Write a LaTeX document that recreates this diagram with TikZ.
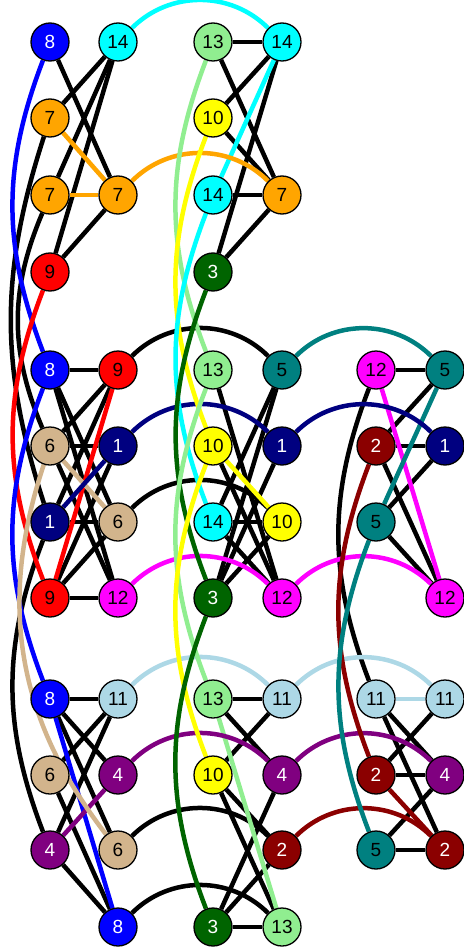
\documentclass[tikz,border=0pt]{standalone}
\usepackage{fontspec}
\setmainfont{Liberation Sans}
\usetikzlibrary{backgrounds}
\definecolor{cBlue}{RGB}{0,0,255}
\definecolor{cCyan}{RGB}{0,255,255}
\definecolor{cLightGreen}{RGB}{144,238,144}
\definecolor{cYellow}{RGB}{255,255,0}
\definecolor{cOrange}{RGB}{255,165,0}
\definecolor{cRed}{RGB}{255,0,0}
\definecolor{cDarkGreen}{RGB}{0,100,0}
\definecolor{cTeal}{RGB}{0,128,128}
\definecolor{cMagenta}{RGB}{255,0,255}
\definecolor{cNavy}{RGB}{0,0,128}
\definecolor{cTan}{RGB}{210,180,140}
\definecolor{cLightBlue}{RGB}{173,216,230}
\definecolor{cPurple}{RGB}{128,0,128}
\definecolor{cDarkRed}{RGB}{139,0,0}
\tikzset{
  vtx/.style={circle,draw=black,line width=1.3pt,minimum size=38pt,
    inner sep=0pt,font=\fontsize{19}{19}\selectfont},
  c1/.style={vtx,fill=cNavy,text=white},
  c2/.style={vtx,fill=cDarkRed,text=white},
  c3/.style={vtx,fill=cDarkGreen,text=white},
  c4/.style={vtx,fill=cPurple,text=white},
  c5/.style={vtx,fill=cTeal},
  c6/.style={vtx,fill=cTan},
  c7/.style={vtx,fill=cOrange},
  c8/.style={vtx,fill=cBlue,text=white},
  c9/.style={vtx,fill=cRed},
  c10/.style={vtx,fill=cYellow},
  c11/.style={vtx,fill=cLightBlue},
  c12/.style={vtx,fill=cMagenta},
  c13/.style={vtx,fill=cLightGreen},
  c14/.style={vtx,fill=cCyan},
  lnk/.style={line width=4.5pt},
  arc/.style={lnk,bend left=45},
  drop/.style={lnk,bend right=21}
}
\begin{document}
\begin{tikzpicture}[x=1pt,y=-1pt]
  \useasboundingbox (0,0) rectangle (463,952);

  % top block
  \node[c8]  (r1c1) at (50,42)  {8};
  \node[c14] (r1c2) at (118,42) {14};
  \node[c7]  (r2c1) at (50,118) {7};
  \node[c7]  (r3c1) at (50,195) {7};
  \node[c7]  (r3c2) at (118,195) {7};
  \node[c9]  (r4c1) at (50,272) {9};
  \node[c13] (r1c3) at (213,42) {13};
  \node[c14] (r1c4) at (282,42) {14};
  \node[c10] (r2c3) at (213,118) {10};
  \node[c14] (r3c3) at (213,195) {14};
  \node[c7]  (r3c4) at (282,195) {7};
  \node[c3]  (r4c3) at (213,272) {3};

  % middle block
  \node[c8]  (r5c1) at (50,370)  {8};
  \node[c9]  (r5c2) at (118,370) {9};
  \node[c6]  (r6c1) at (50,446)  {6};
  \node[c1]  (r6c2) at (118,446) {1};
  \node[c1]  (r7c1) at (50,522)  {1};
  \node[c6]  (r7c2) at (118,522) {6};
  \node[c9]  (r8c1) at (50,598)  {9};
  \node[c12] (r8c2) at (118,598) {12};
  \node[c13] (r5c3) at (213,370) {13};
  \node[c5]  (r5c4) at (282,370) {5};
  \node[c10] (r6c3) at (213,446) {10};
  \node[c1]  (r6c4) at (282,446) {1};
  \node[c14] (r7c3) at (213,522) {14};
  \node[c10] (r7c4) at (282,522) {10};
  \node[c3]  (r8c3) at (213,598) {3};
  \node[c12] (r8c4) at (282,598) {12};
  \node[c12] (r5c5) at (376,370) {12};
  \node[c5]  (r5c6) at (445,370) {5};
  \node[c2]  (r6c5) at (376,446) {2};
  \node[c1]  (r6c6) at (445,446) {1};
  \node[c5]  (r7c5) at (376,522) {5};
  \node[c12] (r8c6) at (445,598) {12};

  % bottom block
  \node[c8]  (r9c1)  at (50,699)  {8};
  \node[c11] (r9c2)  at (118,699) {11};
  \node[c6]  (r10c1) at (50,775)  {6};
  \node[c4]  (r10c2) at (118,775) {4};
  \node[c4]  (r11c1) at (50,850)  {4};
  \node[c6]  (r11c2) at (118,850) {6};
  \node[c8]  (r12c2) at (118,927) {8};
  \node[c13] (r9c3)  at (213,699) {13};
  \node[c11] (r9c4)  at (282,699) {11};
  \node[c10] (r10c3) at (213,775) {10};
  \node[c4]  (r10c4) at (282,775) {4};
  \node[c2]  (r11c4) at (282,850) {2};
  \node[c3]  (r12c3) at (213,927) {3};
  \node[c13] (r12c4) at (282,927) {13};
  \node[c11] (r9c5)  at (376,699) {11};
  \node[c11] (r9c6)  at (445,699) {11};
  \node[c2]  (r10c5) at (376,775) {2};
  \node[c4]  (r10c6) at (445,775) {4};
  \node[c5]  (r11c5) at (376,850) {5};
  \node[c2]  (r11c6) at (445,850) {2};

  \begin{scope}[on background layer]
  % black links, top block
  \draw[lnk] (r1c1) -- (r3c2);
  \draw[lnk] (r1c2) -- (r2c1);
  \draw[lnk] (r1c2) -- (r3c1);
  \draw[lnk] (r1c2) -- (r4c1);
  \draw[lnk] (r3c2) -- (r4c1);
  \draw[lnk] (r1c3) -- (r1c4);
  \draw[lnk] (r1c3) -- (r3c4);
  \draw[lnk] (r1c4) -- (r2c3);
  \draw[lnk] (r1c4) -- (r4c3);
  \draw[lnk] (r2c3) -- (r3c4);
  \draw[lnk] (r3c3) -- (r3c4);
  \draw[lnk] (r3c4) -- (r4c3);

  % black links, middle block
  \draw[lnk] (r5c1) -- (r5c2);
  \draw[lnk] (r5c1) -- (r7c2);
  \draw[lnk] (r5c1) -- (r8c2);
  \draw[lnk] (r5c2) -- (r6c1);
  \draw[lnk] (r5c2) -- (r7c1);
  \draw[lnk] (r6c1) -- (r6c2);
  \draw[lnk] (r6c1) -- (r8c2);
  \draw[lnk] (r6c2) -- (r8c1);
  \draw[lnk] (r7c1) -- (r7c2);
  \draw[lnk] (r7c2) -- (r8c1);
  \draw[lnk] (r8c1) -- (r8c2);
  \draw[lnk] (r5c3) -- (r8c4);
  \draw[lnk] (r5c4) -- (r7c3);
  \draw[lnk] (r5c4) -- (r8c3);
  \draw[lnk] (r6c3) -- (r8c4);
  \draw[lnk] (r6c4) -- (r8c3);
  \draw[lnk] (r7c3) -- (r7c4);
  \draw[lnk] (r7c3) -- (r8c4);
  \draw[lnk] (r7c4) -- (r8c3);
  \draw[lnk] (r5c5) -- (r5c6);
  \draw[lnk] (r5c6) -- (r6c5);
  \draw[lnk] (r6c5) -- (r6c6);
  \draw[lnk] (r6c5) -- (r8c6);
  \draw[lnk] (r6c6) -- (r7c5);
  \draw[lnk] (r7c5) -- (r8c6);

  % black links, bottom block
  \draw[lnk] (r9c1) -- (r9c2);
  \draw[lnk] (r9c1) -- (r10c2);
  \draw[lnk] (r9c1) -- (r11c2);
  \draw[lnk] (r9c2) -- (r10c1);
  \draw[lnk] (r9c2) -- (r11c1);
  \draw[lnk] (r10c1) -- (r12c2);
  \draw[lnk] (r11c1) -- (r12c2);
  \draw[lnk] (r9c3) -- (r9c4);
  \draw[lnk] (r9c3) -- (r10c4);
  \draw[lnk] (r9c4) -- (r10c3);
  \draw[lnk] (r10c3) -- (r11c4);
  \draw[lnk] (r10c3) -- (r12c4);
  \draw[lnk] (r10c4) -- (r12c3);
  \draw[lnk] (r11c4) -- (r12c3);
  \draw[lnk] (r12c3) -- (r12c4);
  \draw[lnk] (r9c5) -- (r10c6);
  \draw[lnk] (r9c5) -- (r11c6);
  \draw[lnk] (r9c6) -- (r10c5);
  \draw[lnk] (r10c5) -- (r10c6);
  \draw[lnk] (r10c6) -- (r11c5);
  \draw[lnk] (r11c5) -- (r11c6);

  % black arcs and drops
  \draw[arc] (r5c2) to (r5c4);
  \draw[arc] (r7c2) to (r7c4);
  \draw[arc] (r11c2) to (r11c4);
  \draw[arc] (r12c2) to (r12c4);
  \draw[lnk,bend right=18] (r2c1) to (r7c1);
  \draw[lnk,bend right=23] (r3c1) to (r6c1);
  \draw[drop] (r7c1) to (r11c1);
  \draw[drop] (r5c5) to (r9c5);

  % coloured links
  \draw[lnk,cOrange] (r2c1) -- (r3c2);
  \draw[lnk,cOrange] (r3c1) -- (r3c2);
  \draw[lnk,cCyan] (r1c4) -- (r3c3);
  \draw[lnk,cRed] (r5c2) -- (r8c1);
  \draw[lnk,cTan] (r6c1) -- (r7c2);
  \draw[lnk,cNavy] (r6c2) -- (r7c1);
  \draw[lnk,cYellow] (r6c3) -- (r7c4);
  \draw[lnk,cMagenta] (r5c5) -- (r8c6);
  \draw[lnk,cTeal] (r5c6) -- (r7c5);
  \draw[lnk,cBlue] (r9c1) -- (r12c2);
  \draw[lnk,cPurple] (r10c2) -- (r11c1);
  \draw[lnk,cLightGreen] (r9c3) -- (r12c4);
  \draw[lnk,cLightBlue] (r9c5) -- (r9c6);
  \draw[lnk,cDarkRed] (r10c5) -- (r11c6);

  % coloured arcs
  \draw[arc,cCyan] (r1c2) to (r1c4);
  \draw[arc,cOrange] (r3c2) to (r3c4);
  \draw[arc,cNavy] (r6c2) to (r6c4);
  \draw[arc,cMagenta] (r8c2) to (r8c4);
  \draw[arc,cTeal] (r5c4) to (r5c6);
  \draw[arc,cNavy] (r6c4) to (r6c6);
  \draw[arc,cMagenta] (r8c4) to (r8c6);
  \draw[arc,cLightBlue] (r9c2) to (r9c4);
  \draw[arc,cPurple] (r10c2) to (r10c4);
  \draw[arc,cLightBlue] (r9c4) to (r9c6);
  \draw[arc,cPurple] (r10c4) to (r10c6);
  \draw[arc,cDarkRed] (r11c4) to (r11c6);

  % coloured drops
  \draw[drop,cBlue] (r1c1) to (r5c1);
  \draw[drop,cRed] (r4c1) to (r8c1);
  \draw[drop,cBlue] (r5c1) to (r9c1);
  \draw[lnk,cTan,bend right=28] (r6c1) to (r11c2);
  \draw[drop,cLightGreen] (r1c3) to (r5c3);
  \draw[drop,cYellow] (r2c3) to (r6c3);
  \draw[drop,cCyan] (r3c3) to (r7c3);
  \draw[drop,cDarkGreen] (r4c3) to (r8c3);
  \draw[drop,cLightGreen] (r5c3) to (r9c3);
  \draw[drop,cYellow] (r6c3) to (r10c3);
  \draw[drop,cDarkGreen] (r8c3) to (r12c3);
  \draw[drop,cDarkRed] (r6c5) to (r10c5);
  \draw[drop,cTeal] (r7c5) to (r11c5);
  \end{scope}
\end{tikzpicture}
\end{document}
